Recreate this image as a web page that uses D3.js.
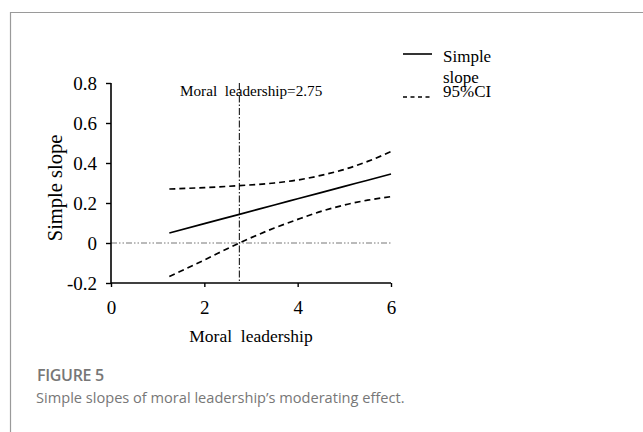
<!DOCTYPE html>
<html>
<head>
<meta charset="utf-8">
<script src="https://cdn.jsdelivr.net/npm/d3@7"></script>
<style>
  body { margin: 0; background: #fff; }
  svg { display: block; }
</style>
</head>
<body>
<div id="chart"></div>
<script>
// values
var moral = [1.25, 2, 2.75, 3.5, 4, 4.5, 5, 5.5, 6];
var slope = [0.05, 0.097, 0.143, 0.19, 0.221, 0.252, 0.283, 0.314, 0.345];
var ciUpper = [0.27, 0.277, 0.287, 0.30, 0.315, 0.338, 0.368, 0.408, 0.457];
var ciLower = [-0.168, -0.085, 0, 0.075, 0.118, 0.158, 0.19, 0.214, 0.232];
var xTicks = [0, 2, 4, 6];
var yTicks = [-0.2, 0, 0.2, 0.4, 0.6, 0.8];
var cutoff = 2.75;
var legendNames = ["Simple slope", "95%CI"];

var W = 643, H = 432;
var svg = d3.select("#chart").append("svg").attr("width", W).attr("height", H);

// card frame
svg.append("path")
  .attr("d", "M10.5," + H + "V12.5H" + W)
  .attr("fill", "none").attr("stroke", "#9a9a9a").attr("stroke-width", 1.2);

var x = d3.scaleLinear().domain([0, 6]).range([111, 391]);
var y = d3.scaleLinear().domain([-0.2, 0.8]).range([283, 83]);
var serif = "'Liberation Serif', 'Times New Roman', serif";

// zero reference line
svg.append("line")
  .attr("x1", x(0)).attr("x2", x(6)).attr("y1", y(0)).attr("y2", y(0))
  .attr("stroke", "#777").attr("stroke-width", 1)
  .attr("stroke-dasharray", "6,2,1.5,2,1.5,2");

// axes
var yAxis = svg.append("g").attr("transform", "translate(" + x(0) + ",0)")
  .call(d3.axisLeft(y).tickValues(yTicks).tickSize(5).tickPadding(9)
    .tickFormat(function(d) { return d === 0 ? "0" : d3.format(".1f")(d).replace("\u2212", "-"); }));
var xAxis = svg.append("g").attr("transform", "translate(0," + y(-0.2) + ")")
  .call(d3.axisBottom(x).tickValues(xTicks).tickSize(4).tickPadding(14).tickFormat(d3.format("d")));
[xAxis, yAxis].forEach(function(a) {
  a.select(".domain").attr("stroke", "#000").attr("stroke-width", 1.6);
  a.selectAll(".tick line").attr("stroke", "#000").attr("stroke-width", 1.4);
  a.selectAll("text").attr("font-family", serif).attr("font-size", 19).attr("fill", "#000");
});
yAxis.select(".domain").attr("d", "M0," + y(0.8) + "V" + y(-0.2));
xAxis.select(".domain").attr("d", "M" + x(0) + ",0H" + x(6));

// cutoff vertical line
svg.append("line")
  .attr("x1", x(cutoff)).attr("x2", x(cutoff)).attr("y1", y(0.8)).attr("y2", y(-0.2))
  .attr("stroke", "#000").attr("stroke-width", 1)
  .attr("stroke-dasharray", "7,2,1.5,2");

svg.append("text").attr("x", 180).attr("y", 96)
  .attr("font-family", serif).attr("font-size", 15.2)
  .attr("xml:space", "preserve")
  .text("Moral  leadership=" + cutoff);

var line = d3.line().x(function(d) { return x(d[0]); }).y(function(d) { return y(d[1]); })
  .curve(d3.curveMonotoneX);

svg.append("path").datum(d3.zip(moral, slope)).attr("d", line)
  .attr("fill", "none").attr("stroke", "#000").attr("stroke-width", 1.7);
[ciUpper, ciLower].forEach(function(s) {
  svg.append("path").datum(d3.zip(moral, s)).attr("d", line)
    .attr("fill", "none").attr("stroke", "#000").attr("stroke-width", 1.7)
    .attr("stroke-dasharray", "6,4");
});

// axis titles
svg.append("text").attr("x", 251).attr("y", 342).attr("text-anchor", "middle")
  .attr("font-family", serif).attr("font-size", 17.5).attr("xml:space", "preserve")
  .text("Moral  leadership");
svg.append("text").attr("transform", "translate(62,188) rotate(-90)")
  .attr("text-anchor", "middle")
  .attr("font-family", serif).attr("font-size", 20.5)
  .text("Simple slope");

// legend
var lg = svg.append("g");
lg.append("line").attr("x1", 403).attr("x2", 432).attr("y1", 54).attr("y2", 54)
  .attr("stroke", "#000").attr("stroke-width", 1.6);
lg.append("text").attr("x", 443).attr("y", 62).attr("font-family", serif).attr("font-size", 17)
  .text(legendNames[0].split(" ")[0]);
lg.append("text").attr("x", 443).attr("y", 83).attr("font-family", serif).attr("font-size", 17)
  .text(legendNames[0].split(" ")[1]);
lg.append("line").attr("x1", 403).attr("x2", 432).attr("y1", 97).attr("y2", 97)
  .attr("stroke", "#000").attr("stroke-width", 1.6).attr("stroke-dasharray", "4,3.5");
lg.append("text").attr("x", 443).attr("y", 97).attr("font-family", serif).attr("font-size", 17)
  .text(legendNames[1]);

// caption
svg.append("text").attr("x", 37).attr("y", 381)
  .attr("font-family", "'Open Sans', sans-serif").attr("font-size", 16).attr("font-weight", 600)
  .attr("letter-spacing", -0.3)
  .attr("fill", "#777").text("FIGURE 5");
svg.append("text").attr("x", 36).attr("y", 403)
  .attr("font-family", "'Open Sans', sans-serif").attr("font-size", 14.6)
  .attr("fill", "#777").text("Simple slopes of moral leadership\u2019s moderating effect.");
</script>
</body>
</html>
